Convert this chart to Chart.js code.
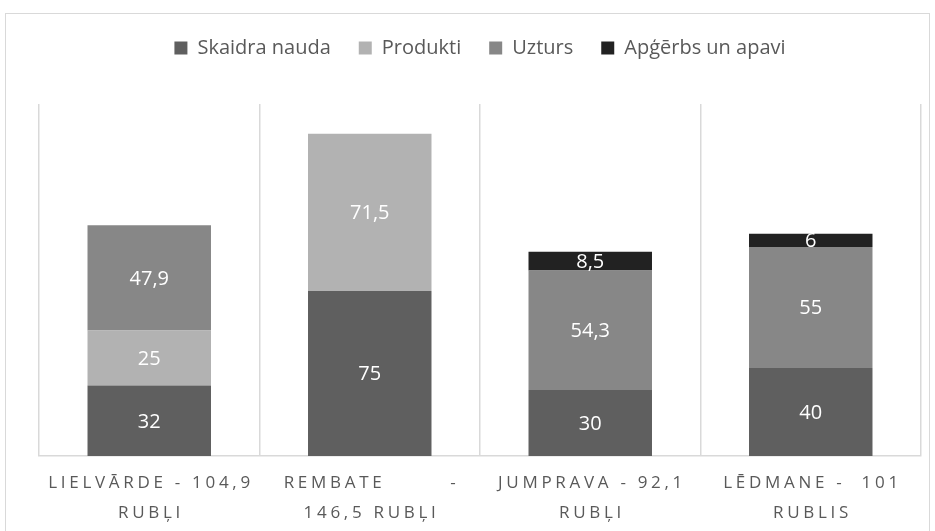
<!DOCTYPE html>
<html>
<head>
<meta charset="utf-8">
<script src="https://cdn.jsdelivr.net/npm/chart.js@4.4.1/dist/chart.umd.min.js"></script>
<style>
  html, body { margin: 0; padding: 0; background: #fff; }
  #wrap { position: relative; width: 935px; height: 531px; }
  #frame { position: absolute; left: 5px; top: 13px; width: 923px; height: 540px; border: 1px solid #d9d9d9; pointer-events: none; }
</style>
</head>
<body>
<div id="wrap">
  <canvas id="chart" width="935" height="531"></canvas>
  <div id="frame"></div>
</div>
<script>
// Kategorijas (divrindu etiķetes) un sēriju vērtības
const categories = [
    ['LIELVĀRDE - 104,9', 'RUBĻI'],
    ['REMBATE        -', '146,5 RUBĻI'],
    ['JUMPRAVA - 92,1', 'RUBĻI'],
    ['LĒDMANE -  101', 'RUBLIS']
];
const seriesNames = ['Skaidra nauda', 'Produkti', 'Uzturs', 'Apģērbs un apavi'];
const skaidraNauda = [32, 75, 30, 40];
const produkti = [25, 71.5, null, null];
const uzturs = [47.9, null, 54.3, 55];
const apgerbs = [null, null, 8.5, 6];
const yMax = 160;

const COLORS = ['#5f5f5f', '#b2b2b2', '#878787', '#222222'];
const TEXT = '#595959';
const GRID = '#d9d9d9';

// Leģendai vajag vairāk vietas zem tās
const legendSpace = {
    id: 'legendSpace',
    beforeInit(chart) {
        const fit = chart.legend.fit;
        chart.legend.fit = function () { fit.bind(chart.legend)(); this.height += 36; };
    }
};

// Vērtību etiķetes segmentu vidū
const valueLabels = {
    id: 'valueLabels',
    afterDatasetsDraw(chart) {
        const ctx = chart.ctx;
        ctx.save();
        ctx.fillStyle = '#ffffff';
        ctx.font = '20px "Open Sans"';
        ctx.textAlign = 'center';
        ctx.textBaseline = 'middle';
        chart.data.datasets.forEach((ds, i) => {
            chart.getDatasetMeta(i).data.forEach((bar, j) => {
                const v = ds.data[j];
                if (v == null) return;
                const y = (bar.y + bar.base) / 2;
                ctx.fillText(String(v).replace('.', ','), bar.x, y + 1);
            });
        });
        ctx.restore();
    }
};

// X ass etiķetes ar burtu atstarpēm
const axisLabels = {
    id: 'axisLabels',
    afterDraw(chart) {
        const ctx = chart.ctx;
        const xs = chart.scales.x;
        ctx.save();
        ctx.fillStyle = TEXT;
        ctx.font = '17px "Open Sans"';
        ctx.letterSpacing = '3.7px';
        ctx.textAlign = 'center';
        ctx.textBaseline = 'middle';
        categories.forEach((lines, i) => {
            const x = xs.getPixelForTick(i);
            lines.forEach((t, k) => ctx.fillText(t, x + 1.8, xs.bottom + 27 + k * 30));
        });
        ctx.restore();
    }
};

const seriesData = [skaidraNauda, produkti, uzturs, apgerbs];

new Chart(document.getElementById('chart'), {
    type: 'bar',
    data: {
        labels: categories.map(c => c.join(' ')),
        datasets: seriesNames.map((name, i) => ({
            label: name,
            data: seriesData[i],
            backgroundColor: COLORS[i],
            borderWidth: 0,
            categoryPercentage: 1,
            barPercentage: 0.56
        }))
    },
    options: {
        responsive: false,
        animation: false,
        layout: { padding: { top: 10, left: 39, right: 14, bottom: 75 } },
        plugins: {
            legend: {
                position: 'top',
                labels: {
                    color: TEXT,
                    font: { family: '"Open Sans"', size: 20 },
                    boxWidth: 13, boxHeight: 13, padding: 28
                }
            },
            tooltip: { enabled: false }
        },
        scales: {
            x: {
                stacked: true,
                grid: { color: GRID, lineWidth: 1.5, drawTicks: false },
                border: { color: GRID, width: 1.5 },
                ticks: { display: false }
            },
            y: {
                stacked: true, display: false, min: 0, max: yMax
            }
        }
    },
    plugins: [legendSpace, valueLabels, axisLabels]
});
</script>
</body>
</html>
